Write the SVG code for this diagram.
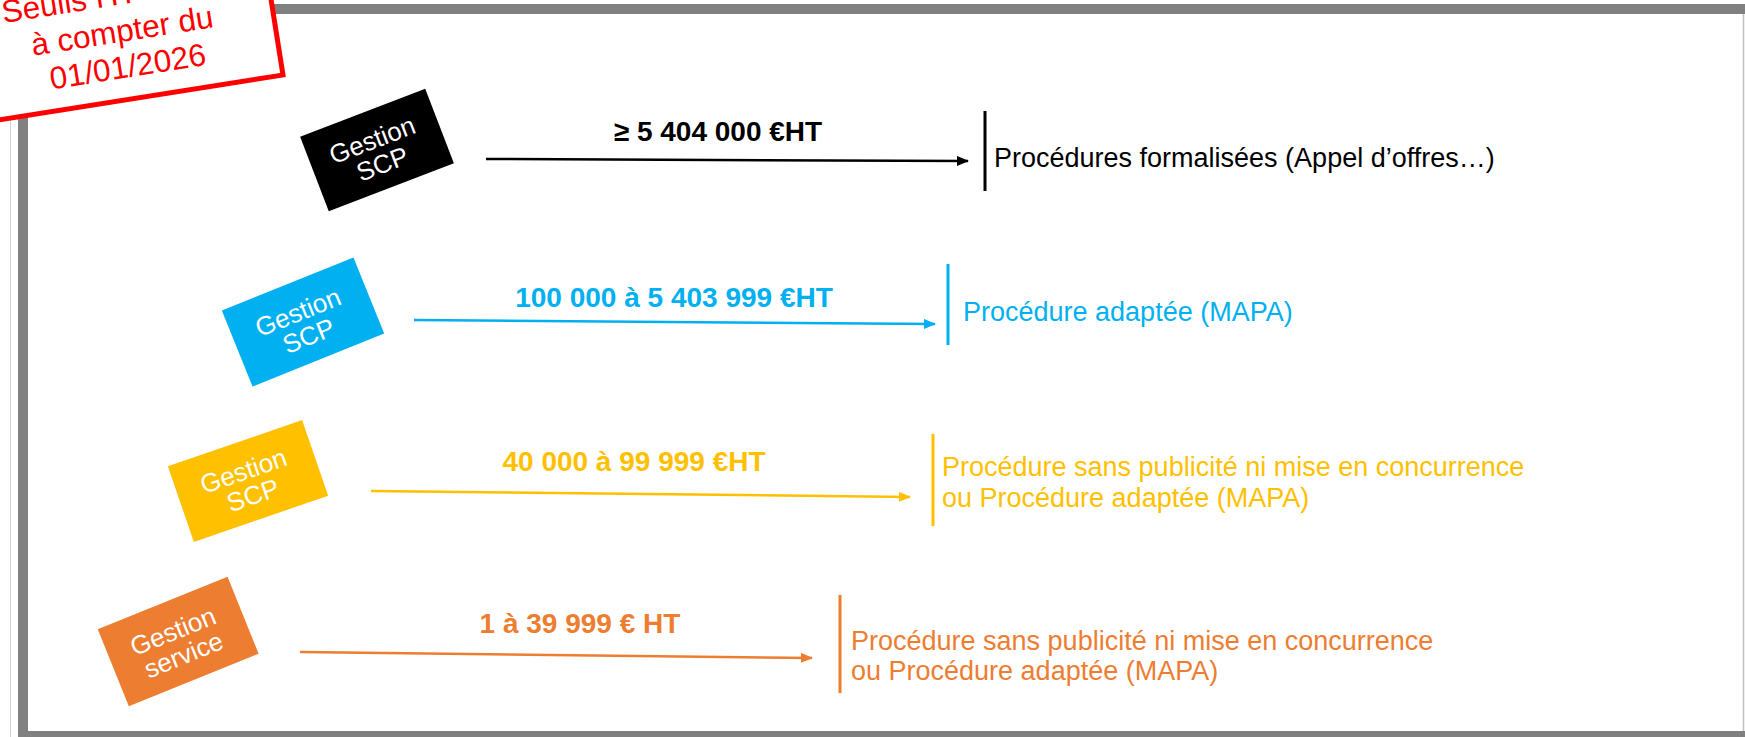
<svg xmlns="http://www.w3.org/2000/svg" width="1745" height="737" viewBox="0 0 1745 737">
<style>
.box-text{font-family:"Liberation Sans",Arial,sans-serif;font-size:26px;fill:#fff;text-anchor:middle}
.label{font-family:"Liberation Sans",Arial,sans-serif;font-size:28px;font-weight:bold;text-anchor:middle}
.desc{font-family:"Liberation Sans",Arial,sans-serif;font-size:27px}
.stamp-text{font-family:"Liberation Sans",Arial,sans-serif;font-size:31.5px;fill:#ff0000}
.conn{fill:none;stroke-width:2.5}
.bar{stroke-width:3}
</style>
<defs>
<marker id="ah-black" markerWidth="12" markerHeight="10" refX="11" refY="5" orient="auto" markerUnits="userSpaceOnUse"><path d="M0,0 L12,5 L0,10 z" fill="#000"/></marker>
<marker id="ah-blue" markerWidth="12" markerHeight="10" refX="11" refY="5" orient="auto" markerUnits="userSpaceOnUse"><path d="M0,0 L12,5 L0,10 z" fill="#00b0f0"/></marker>
<marker id="ah-yellow" markerWidth="12" markerHeight="10" refX="11" refY="5" orient="auto" markerUnits="userSpaceOnUse"><path d="M0,0 L12,5 L0,10 z" fill="#ffc000"/></marker>
<marker id="ah-orange" markerWidth="12" markerHeight="10" refX="11" refY="5" orient="auto" markerUnits="userSpaceOnUse"><path d="M0,0 L12,5 L0,10 z" fill="#ed7d31"/></marker>
</defs>
<rect width="1745" height="737" fill="#fff"/>
<g id="frame">
<line x1="10.5" y1="0" x2="10.5" y2="737" stroke="#cfcfcf" stroke-width="1"/>
<line x1="1743.5" y1="14" x2="1743.5" y2="731" stroke="#c0c0c0" stroke-width="1.5"/>
<rect x="23" y="9" width="1800" height="727" fill="none" stroke="#808080" stroke-width="10"/>
</g>
<g id="stamp" transform="translate(283,75) rotate(-9)">
<rect x="-340" y="-170" width="340" height="170" fill="#fff" stroke="#ff0000" stroke-width="5"/>
<text class="stamp-text" x="-268" y="-95">Seuils HT</text>
<text class="stamp-text" x="-152" y="-58" text-anchor="middle">à compter du</text>
<text class="stamp-text" x="-152" y="-22" text-anchor="middle">01/01/2026</text>
</g>
<g id="box-1" transform="translate(377,150) rotate(-21)">
<rect x="-67" y="-40" width="134" height="80" fill="#000"/>
<text class="box-text" x="-1" y="-2">Gestion</text>
<text class="box-text" x="0" y="24">SCP</text>
</g>
<g id="box-2" transform="translate(303,322) rotate(-22)">
<rect x="-71" y="-41" width="142" height="82" fill="#00b0f0"/>
<text class="box-text" x="-1" y="-2">Gestion</text>
<text class="box-text" x="0" y="24">SCP</text>
</g>
<g id="box-3" transform="translate(248,481) rotate(-19)">
<rect x="-71" y="-40" width="142" height="80" fill="#ffc000"/>
<text class="box-text" x="-1" y="-2">Gestion</text>
<text class="box-text" x="0" y="24">SCP</text>
</g>
<g id="box-4" transform="translate(178,641) rotate(-22)">
<rect x="-70" y="-41" width="140" height="83" fill="#ed7d31"/>
<text class="box-text" x="-1" y="-2">Gestion</text>
<text class="box-text" x="0" y="24">service</text>
</g>
<g id="connectors">
<line class="conn" x1="486" y1="159" x2="968" y2="161" stroke="#000" stroke-width="2" marker-end="url(#ah-black)"/>
<line class="conn" x1="414" y1="320" x2="935" y2="324" stroke="#00b0f0" marker-end="url(#ah-blue)"/>
<line class="conn" x1="371" y1="491" x2="910" y2="497" stroke="#ffc000" marker-end="url(#ah-yellow)"/>
<line class="conn" x1="300" y1="652" x2="812" y2="658" stroke="#ed7d31" marker-end="url(#ah-orange)"/>
</g>
<g id="labels">
<text class="label" x="718" y="141" fill="#000">≥ 5 404 000 €HT</text>
<text class="label" x="674" y="307" fill="#00b0f0">100 000 à 5 403 999 €HT</text>
<text class="label" x="634" y="471" fill="#ffc000">40 000 à 99 999 €HT</text>
<text class="label" x="580" y="633" fill="#ed7d31">1 à 39 999 € HT</text>
</g>
<g id="result-1">
<line class="bar" x1="985" y1="111" x2="985" y2="191" stroke="#000"/>
<text class="desc" x="994" y="167" fill="#000">Procédures formalisées (Appel d’offres…)</text>
</g>
<g id="result-2">
<line class="bar" x1="948" y1="264" x2="948" y2="345" stroke="#00b0f0"/>
<text class="desc" x="963" y="321" fill="#00b0f0">Procédure adaptée (MAPA)</text>
</g>
<g id="result-3">
<line class="bar" x1="933" y1="434" x2="933" y2="526" stroke="#ffc000"/>
<text class="desc" x="942" y="476" fill="#ffc000">Procédure sans publicité ni mise en concurrence</text>
<text class="desc" x="942" y="507" fill="#ffc000">ou Procédure adaptée (MAPA)</text>
</g>
<g id="result-4">
<line class="bar" x1="840" y1="595" x2="840" y2="693" stroke="#ed7d31"/>
<text class="desc" x="851" y="650" fill="#ed7d31">Procédure sans publicité ni mise en concurrence</text>
<text class="desc" x="851" y="680" fill="#ed7d31">ou Procédure adaptée (MAPA)</text>
</g>
</svg>
